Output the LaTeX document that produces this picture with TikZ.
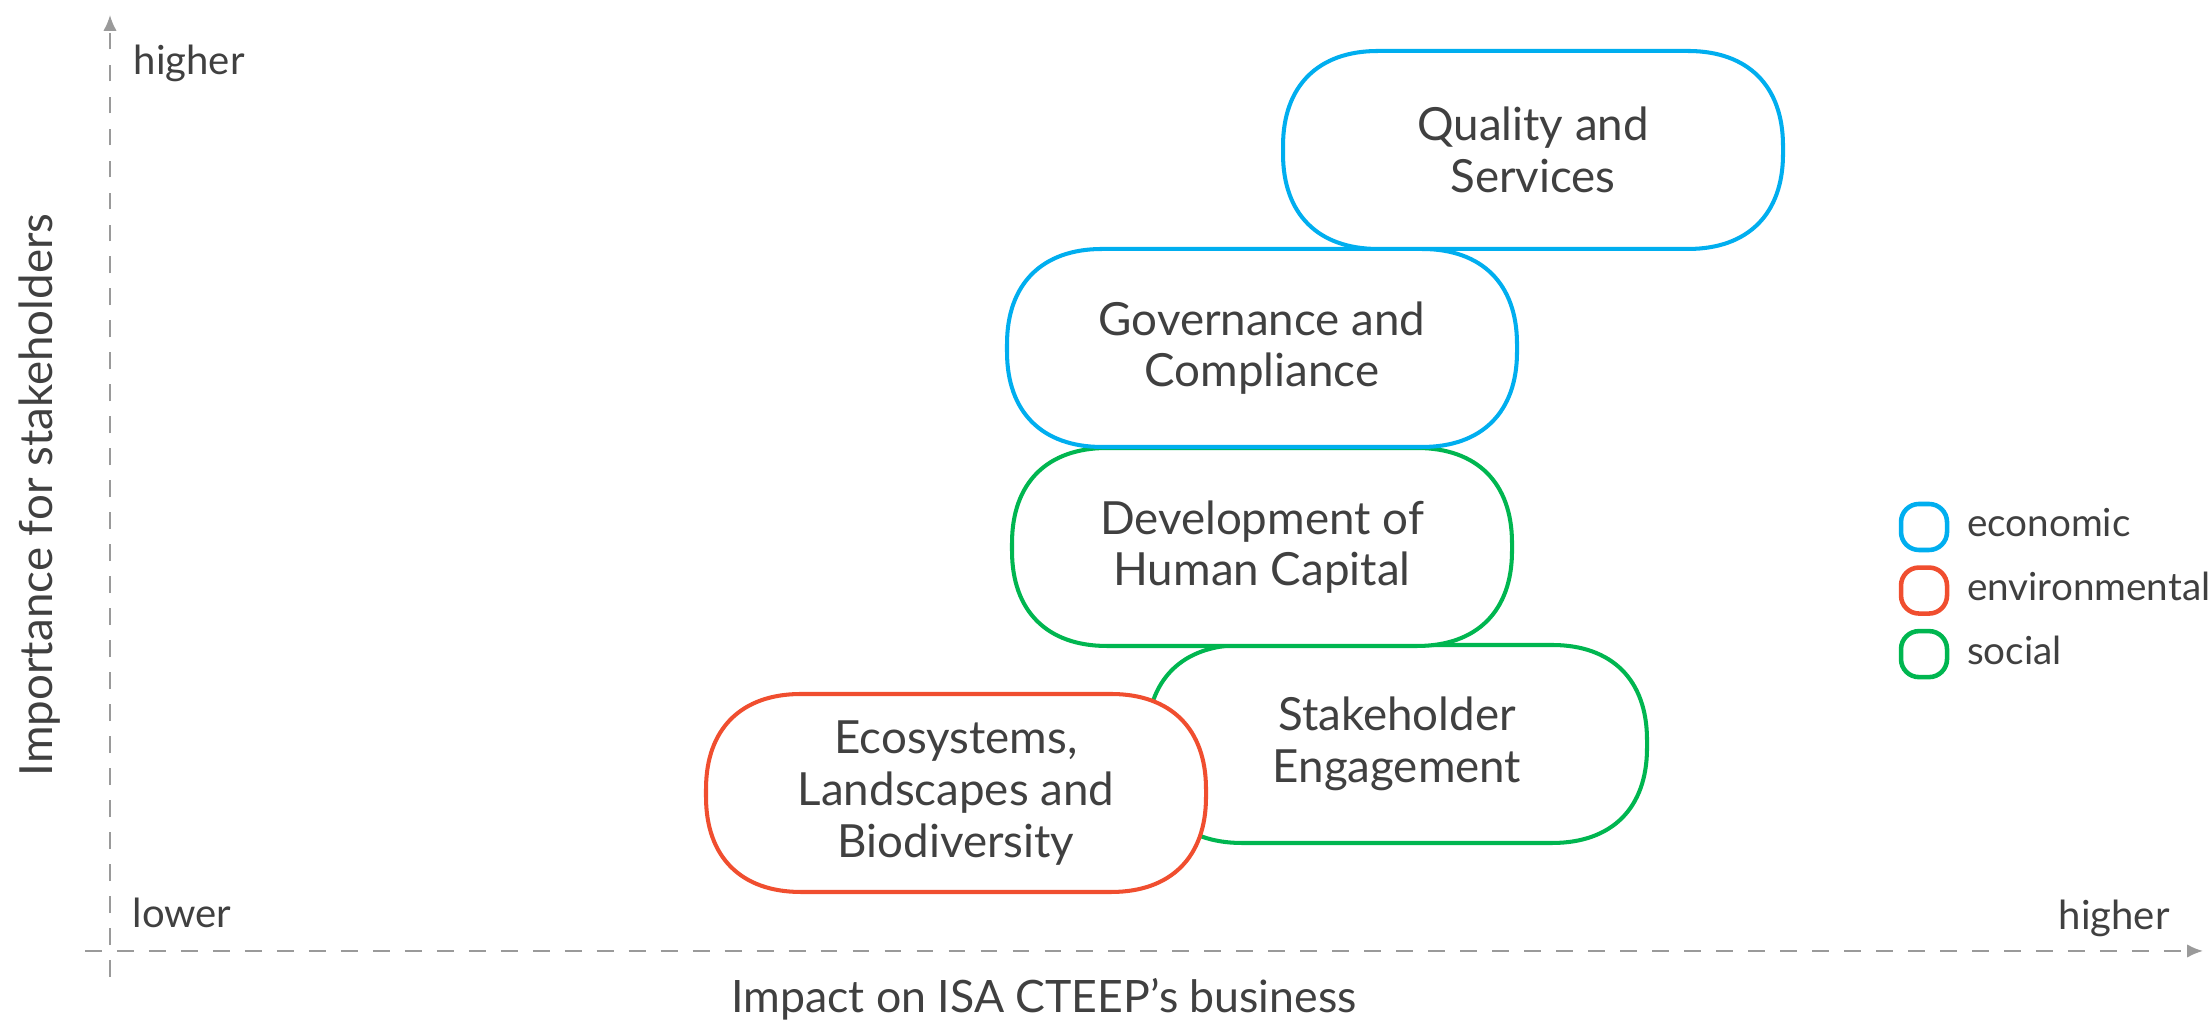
\documentclass[tikz,border=0pt]{standalone}
\usepackage{fontspec}
\setmainfont{Lato}
\usepackage{tikz}
\usetikzlibrary{arrows.meta,positioning,backgrounds}

\definecolor{econblue}{HTML}{00AEEF}
\definecolor{envred}{HTML}{F04E2F}
\definecolor{socgreen}{HTML}{00B650}
\definecolor{txtgray}{HTML}{404040}
\definecolor{axgray}{HTML}{9A9A9A}

\begin{document}
\begin{tikzpicture}[
  font=\fontsize{13}{14.7}\selectfont,
  topic/.style={minimum width=5cm,minimum height=1.98cm,align=center,text=txtgray,
    inner sep=2pt,outer sep=0pt},
  outline/.style={line width=1.15pt,fill=white},
  key/.style={draw,line width=1.3pt,rounded corners=1.8mm,minimum size=4.6mm,inner sep=0pt},
  keytxt/.style={anchor=base west,inner sep=0pt,text=txtgray,font=\fontsize{11}{13}\selectfont},
  ax/.style={draw=axgray,line width=0.6pt,dash pattern=on 4.8pt off 4.3pt},
  axlbl/.style={text=txtgray,inner sep=0pt,font=\fontsize{11.4}{13}\selectfont}]

\useasboundingbox (0,0) rectangle (22.12,10.20);

% --- axes: dashed, arrow at the far end ---
\coordinate (xs) at (0.85,0.69);
\coordinate (xe) at (22.03,0.69);
\coordinate (ys) at (1.10,0.43);
\coordinate (ye) at (1.10,10.05);
\draw[ax,-{Latex[length=4.5pt,width=3.8pt]}] (xs) -- (xe);
\draw[ax,-{Latex[length=4.5pt,width=3.8pt]}] (ys) -- (ye);

\node[axlbl,anchor=base west] (yhi) at (1.33,9.45) {higher};
\node[axlbl,anchor=base west] (lo)  at (1.32,0.92) {lower};
\node[axlbl,anchor=base west] (xhi) at (20.58,0.90) {higher};
\node[axlbl,anchor=base,font=\fontsize{12.7}{14}\selectfont] (xttl) at (10.44,0.07) {Impact on ISA CTEEP’s business};
\node[axlbl,anchor=base,rotate=90,font=\fontsize{13}{14}\selectfont] (yttl) at (0.52,5.25) {Importance for stakeholders};

% --- material topics ---
\node[topic] (se) at (13.97,2.76) {Stakeholder\\Engagement};
\node[topic] (eb) at (9.56,2.27)  {Ecosystems,\\Landscapes and\\Biodiversity};
\node[topic] (dh) at (12.62,4.73) {Development of\\Human Capital};
\node[topic,minimum width=5.1cm] (gc) at (12.62,6.72) {Governance and\\Compliance};
\node[topic] (qs) at (15.33,8.70) {Quality and\\Services};

% squircle outlines behind the text; green one first so the red one overlaps it
\begin{scope}[on background layer]
\foreach \n/\c in {se/socgreen,eb/envred,dh/socgreen,gc/econblue,qs/econblue}
  \draw[outline,draw=\c]
    ([xshift=0.95cm]\n.north west) -- ([xshift=-0.95cm]\n.north east)
    .. controls +(0.6,0) and +(0,0.6) .. ([yshift=-0.95cm]\n.north east)
    -- ([yshift=0.95cm]\n.south east)
    .. controls +(0,-0.6) and +(0.6,0) .. ([xshift=-0.95cm]\n.south east)
    -- ([xshift=0.95cm]\n.south west)
    .. controls +(-0.6,0) and +(0,-0.6) .. ([yshift=0.95cm]\n.south west)
    -- ([yshift=-0.95cm]\n.north west)
    .. controls +(0,0.6) and +(-0.6,0) .. cycle;
\end{scope}

% --- legend ---
\node[key,draw=econblue] (kE) at (19.24,4.93) {};
\node[key,draw=envred,below=1.3mm of kE] (kN) {};
\node[key,draw=socgreen,below=1.3mm of kN] (kS) {};
\node[keytxt] (kEt) at ([xshift=1.7mm,yshift=-1mm]kE.east) {economic};
\node[keytxt] (kNt) at ([xshift=1.7mm,yshift=-1mm]kN.east) {environmental};
\node[keytxt] (kSt) at ([xshift=1.7mm,yshift=-1mm]kS.east) {social};
\end{tikzpicture}
\end{document}
